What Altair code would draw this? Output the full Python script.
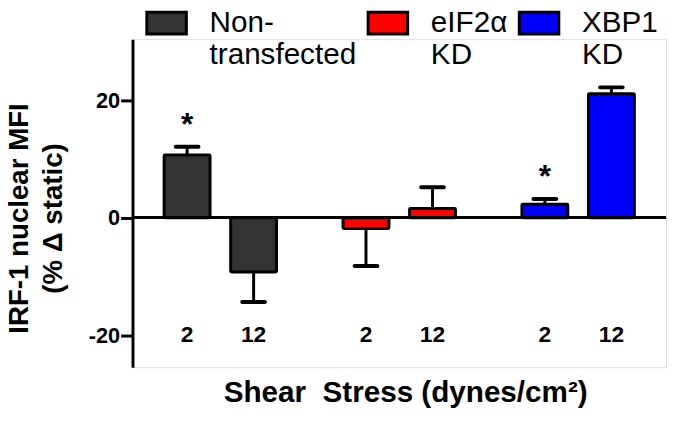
import altair as alt
import pandas as pd

groups = ["Non-transfected", "Non-transfected", "eIF2α KD", "eIF2α KD", "XBP1 KD", "XBP1 KD"]
shear = ["2", "12", "2", "12", "2", "12"]
means = [10.7, -9.2, -1.8, 1.6, 2.3, 21.1]
errs = [1.4, 5.1, 6.4, 3.6, 0.9, 1.1]
sig = ["*", "", "", "", "*", ""]
group_order = ["Non-transfected", "eIF2α KD", "XBP1 KD"]
colors = ["#333333", "#ff0000", "#0000ff"]
y_ticks = [-20, 0, 20]
label_level = -20

df = pd.DataFrame({"grp": groups, "shear": shear, "mean": means, "err": errs, "sig": sig})
df["end"] = [m + (e if m >= 0 else -e) for m, e in zip(means, errs)]
df["lab"] = label_level

FONT = "Liberation Sans"

x_enc = alt.X("grp:N", sort=group_order,
              scale=alt.Scale(paddingInner=0.3715, paddingOuter=0.177),
              axis=alt.Axis(labels=False, ticks=False, domain=False, domainOpacity=0,
                            title="Shear\u00a0 Stress (dynes/cm²)",
                            titleFont=FONT, titleFontSize=30, titleFontWeight="bold",
                            titleColor="black", titleX=276, titleY=35,
                            titleBaseline="alphabetic", titleAnchor="middle"))
xo_enc = alt.XOffset("shear:N", sort=["2", "12"],
                     scale=alt.Scale(paddingInner=0.31, paddingOuter=0))
y_scale = alt.Scale(domain=[-25.4, 30.4], nice=False, zero=False)

base = alt.Chart(df)

stems = base.mark_rule(color="black", strokeWidth=3).encode(
    x=x_enc, xOffset=xo_enc,
    y=alt.Y("mean:Q", scale=y_scale,
            axis=alt.Axis(values=y_ticks, grid=False, domainColor="black", domainWidth=3,
                          tickColor="black", tickWidth=3, tickSize=12,
                          labelFont=FONT, labelFontSize=22, labelFontWeight="bold",
                          labelColor="black", labelPadding=1,
                          labelExpr="'' + datum.value",
                          title=["IRF-1 nuclear MFI", "(% Δ static)"],
                          titleFont=FONT, titleFontSize=28, titleFontWeight="bold",
                          titleColor="black", titleAngle=-90, titleX=-106, titleY=181,
                          titleAlign="center", titleBaseline="alphabetic",
                          titleLineHeight=34)),
    y2="end:Q",
)

caps = base.mark_tick(color="black", thickness=4, size=27, opacity=1, cornerRadius=2).encode(
    x=x_enc, xOffset=xo_enc, y=alt.Y("end:Q", scale=y_scale),
)

bars = base.mark_bar(stroke="black", strokeWidth=3, cornerRadius=1).encode(
    x=x_enc, xOffset=xo_enc,
    y=alt.Y("mean:Q", scale=y_scale),
    y2=alt.datum(0),
    fill=alt.Fill("grp:N", sort=group_order,
                  scale=alt.Scale(domain=group_order, range=colors),
                  legend=alt.Legend(
                      title=None, orient="none", direction="horizontal", columns=3,
                      legendX=13, legendY=-38, padding=0,
                      symbolType="M-1,-0.55H1V0.55H-1Z", symbolSize=1600,
                      symbolStrokeColor="black", symbolStrokeWidth=3, symbolOpacity=1,
                      labelFont=FONT, labelFontSize=30, labelColor="black",
                      labelOffset=22, columnPadding=5,
                      labelLimit=400, labelBaseline="middle",
                      labelExpr="datum.label == 'Non-transfected' ? ['Non-', 'transfected'] : split(datum.label, ' ')")),
)

zero = base.mark_rule(color="black", strokeWidth=2.5).encode(
    y=alt.Y("z:Q", scale=y_scale)
).transform_calculate(z="0")

stars = base.transform_filter("datum.sig != ''").mark_text(
    font=FONT, fontSize=32, fontWeight="bold", color="black",
    baseline="alphabetic", dy=-12).encode(
    x=x_enc, xOffset=xo_enc, y=alt.Y("end:Q", scale=y_scale), text="sig:N")

cats = base.mark_text(font=FONT, fontSize=23, fontWeight="bold", color="black",
                      baseline="middle").encode(
    x=x_enc, xOffset=xo_enc, y=alt.Y("lab:Q", scale=y_scale), text="shear:N")

chart = alt.layer(stems, caps, bars, zero, stars, cats).properties(
    width=540, height=332,
    autosize=alt.AutoSizeParams(type="none"),
    padding={"left": 126, "top": 29, "right": 1, "bottom": 56},
).configure_view(stroke=None).configure_axisX(domain=False).configure(background="white")

chart.save("out.html", embed_options={"renderer": "svg", "actions": False})
